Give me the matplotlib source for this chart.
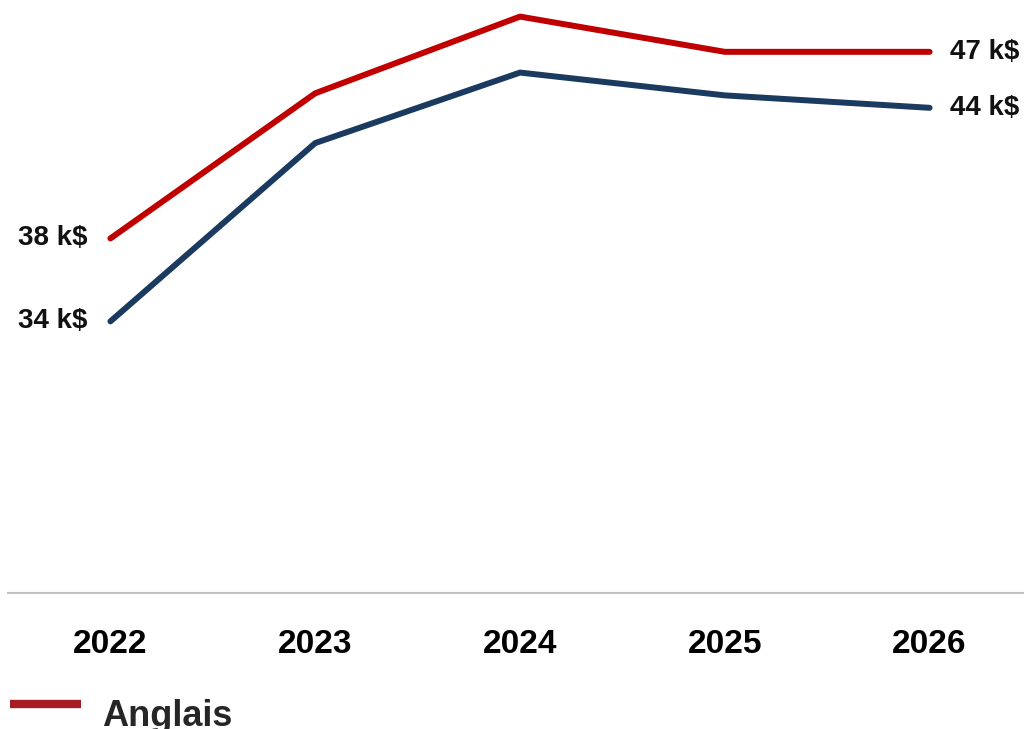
import numpy as np
import matplotlib.pyplot as plt
from matplotlib.lines import Line2D
from matplotlib.legend_handler import HandlerLine2D

years = ['2022', '2023', '2024', '2025', '2026']
anglais = [38.0, 45.0, 48.7, 47.0, 47.0]
francais = [34.0, 42.6, 46.0, 44.9, 44.3]
series_names = ['Anglais', 'Français']

red = '#c00000'
navy = '#1b3a5f'

plt.rcParams['font.family'] = ['Liberation Sans', 'DejaVu Sans']


class RaisedLine(HandlerLine2D):
    # legend swatch sits a bit above the text centre in the original
    def create_artists(self, legend, orig_handle, xdescent, ydescent, width, height, fontsize, trans):
        arts = super().create_artists(legend, orig_handle, xdescent, ydescent, width, height, fontsize, trans)
        for a in arts:
            a.set_ydata(np.asarray(a.get_ydata()) + 0.35 * height)
        return arts


fig = plt.figure(figsize=(10.24, 7.29), dpi=100)
ax = fig.add_axes([8 / 1024, (729 - 593) / 729, 1.0, 593 / 729])

x = list(range(len(years)))
ax.plot(x, anglais, color=red, lw=4.3, solid_capstyle='round', solid_joinstyle='round')
ax.plot(x, francais, color=navy, lw=4.3, solid_capstyle='round', solid_joinstyle='round')

ax.set_xlim(-0.5, 4.5)
ax.set_ylim(20.9, 49.5)

# end labels
for vals in (anglais, francais):
    ax.text(x[0] - 0.11, vals[0], f'{vals[0]:.0f} k$', ha='right', va='center',
            fontsize=20, fontweight='bold', color='#111111')
    ax.text(x[-1] + 0.1, vals[-1], f'{vals[-1]:.0f} k$', ha='left', va='center',
            fontsize=20, fontweight='bold', color='#111111')

ax.set_xticks(x)
ax.set_xticklabels(years, fontsize=24, fontweight='bold')
ax.tick_params(axis='x', length=0, pad=26)
ax.set_yticks([])
for s in ['top', 'right', 'left']:
    ax.spines[s].set_visible(False)
ax.spines['bottom'].set_color('#c0c0c0')
ax.spines['bottom'].set_linewidth(1.5)

handles = [Line2D([], [], color='#a51c24', lw=6, solid_capstyle='butt'),
           Line2D([], [], color=navy, lw=6, solid_capstyle='butt')]
fig.legend(handles, series_names, loc='upper left', bbox_to_anchor=(-0.0216, 0.086),
           ncol=1, frameon=False, handlelength=1.95, handletextpad=0.59,
           prop={'size': 26, 'weight': 'bold'}, labelcolor='#262626', labelspacing=0.8,
           handler_map={Line2D: RaisedLine()})

fig.savefig('out.png', dpi=100)
